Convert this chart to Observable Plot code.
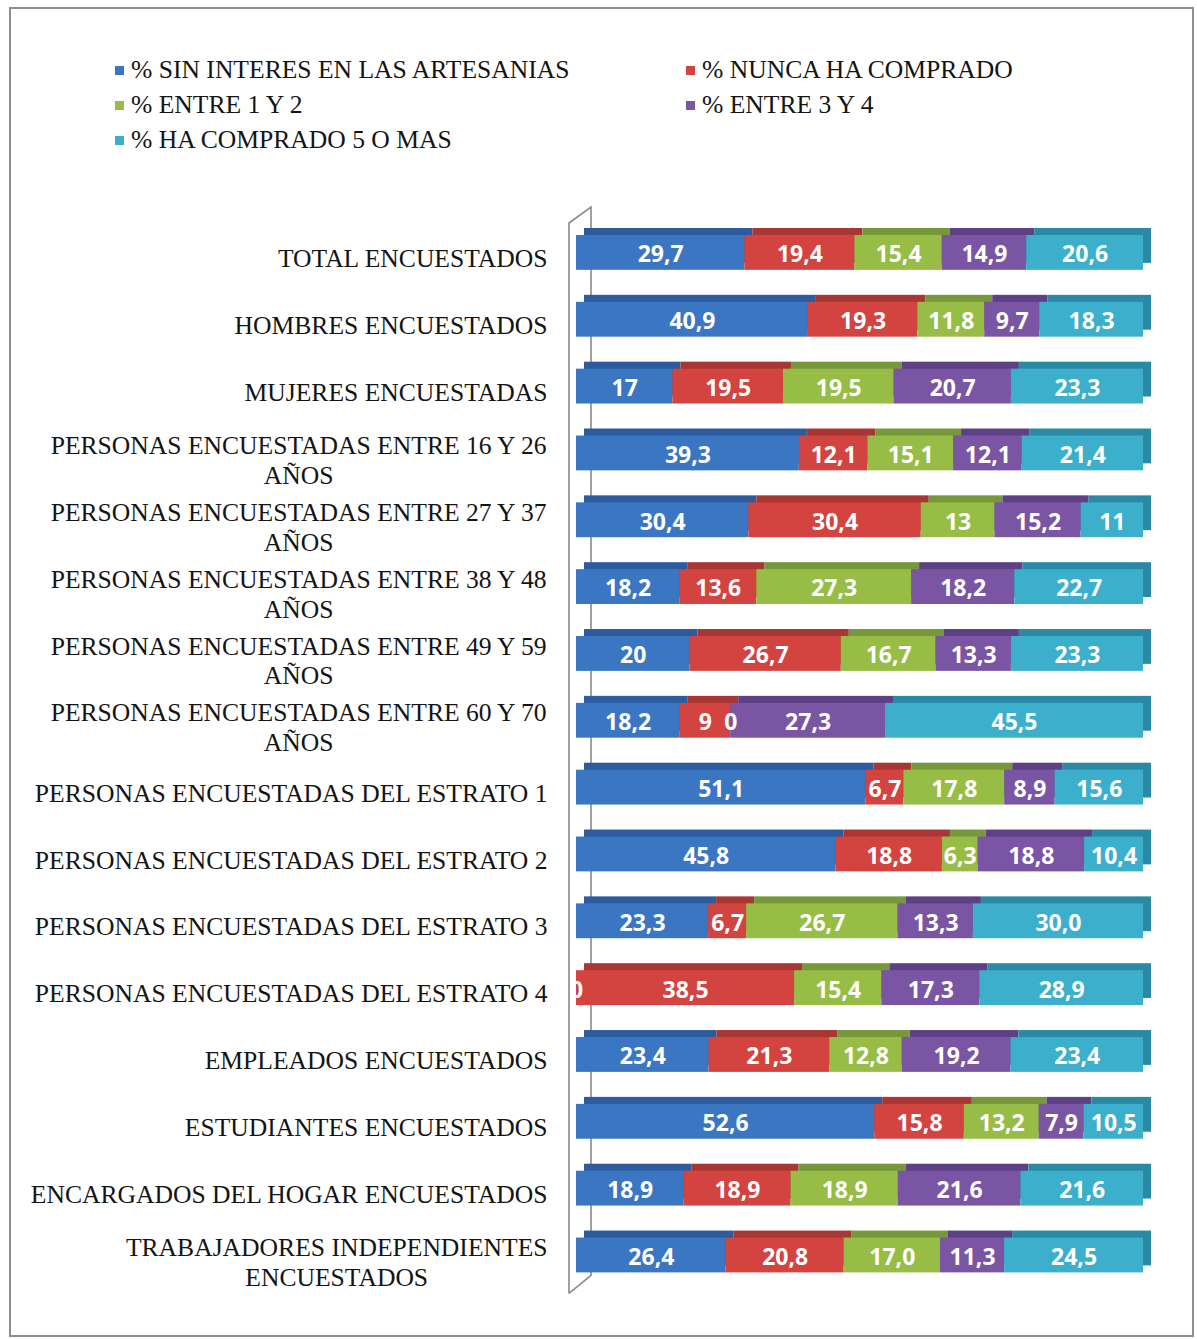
<!DOCTYPE html>
<html>
<head>
<meta charset="utf-8">
<script src="https://cdn.jsdelivr.net/npm/d3@7"></script>
<script src="https://cdn.jsdelivr.net/npm/@observablehq/plot@0.6"></script>
<style>
  body { margin: 0; background: #fff; }
  #wrap { position: relative; width: 1197px; height: 1339px; overflow: hidden; font-family: "Liberation Serif", "Times New Roman", serif; }
  #frame { position: absolute; left: 9px; top: 7px; width: 1185px; height: 1330px; border: 2px solid #8e8e8e; box-sizing: border-box; pointer-events: none; }
  .li { position: absolute; font-size: 25.6px; color: #141414; white-space: nowrap; line-height: 30px; }
  .sw { display: inline-block; width: 9px; height: 9px; margin-right: 7px; vertical-align: middle; position: relative; top: -2px; }
  #chart { position: absolute; left: 0; top: 184px; }
  #chart svg { display: block; }
</style>
</head>
<body>
<div id="wrap">
  <div id="legend"></div>
  <div id="chart"></div>
  <div id="frame"></div>
</div>
<script>
// ---------- DATA ----------
const categories = [
  "TOTAL ENCUESTADOS",
  "HOMBRES ENCUESTADOS",
  "MUJERES ENCUESTADAS",
  "PERSONAS ENCUESTADAS ENTRE 16 Y 26\nAÑOS",
  "PERSONAS ENCUESTADAS ENTRE 27 Y 37\nAÑOS",
  "PERSONAS ENCUESTADAS ENTRE 38 Y 48\nAÑOS",
  "PERSONAS ENCUESTADAS ENTRE 49 Y 59\nAÑOS",
  "PERSONAS ENCUESTADAS ENTRE 60 Y 70\nAÑOS",
  "PERSONAS ENCUESTADAS DEL ESTRATO 1",
  "PERSONAS ENCUESTADAS DEL ESTRATO 2",
  "PERSONAS ENCUESTADAS DEL ESTRATO 3",
  "PERSONAS ENCUESTADAS DEL ESTRATO 4",
  "EMPLEADOS ENCUESTADOS",
  "ESTUDIANTES ENCUESTADOS",
  "ENCARGADOS DEL HOGAR ENCUESTADOS",
  "TRABAJADORES INDEPENDIENTES\nENCUESTADOS"
];
const seriesNames = [
  "% SIN INTERES EN LAS ARTESANIAS",
  "% NUNCA HA COMPRADO",
  "% ENTRE 1 Y 2",
  "% ENTRE 3 Y 4",
  "% HA COMPRADO 5 O MAS"
];
// values as printed on the bars
const sinInteres    = ["29,7","40,9","17","39,3","30,4","18,2","20","18,2","51,1","45,8","23,3","0","23,4","52,6","18,9","26,4"];
const nuncaComprado = ["19,4","19,3","19,5","12,1","30,4","13,6","26,7","9","6,7","18,8","6,7","38,5","21,3","15,8","18,9","20,8"];
const entre1y2      = ["15,4","11,8","19,5","15,1","13","27,3","16,7","0","17,8","6,3","26,7","15,4","12,8","13,2","18,9","17,0"];
const entre3y4      = ["14,9","9,7","20,7","12,1","15,2","18,2","13,3","27,3","8,9","18,8","13,3","17,3","19,2","7,9","21,6","11,3"];
const cincoOMas     = ["20,6","18,3","23,3","21,4","11","22,7","23,3","45,5","15,6","10,4","30,0","28,9","23,4","10,5","21,6","24,5"];

const frontColors = ["#3b76c3", "#d3433f", "#97bd46", "#7a55a3", "#3cafcc"];
const topColors   = ["#2c5c9e", "#a83632", "#76973a", "#5d4085", "#2a8aa6"];

// ---------- BUILD ----------
const seriesLists = [sinInteres, nuncaComprado, entre1y2, entre3y4, cincoOMas];
const rows = [];
categories.forEach((c, i) => seriesLists.forEach((arr, j) => rows.push({
  cat: c, s: j, label: arr[i], value: +arr[i].replace(",", "."),
  front: frontColors[j], top: topColors[j]
})));

// legend (HTML, above the SVG)
const legend = document.getElementById("legend");
const legPos = [[115, 55], [686, 55], [115, 90], [686, 90], [115, 125]];
seriesNames.forEach((n, j) => {
  const d = document.createElement("div");
  d.className = "li";
  d.style.left = legPos[j][0] + "px";
  d.style.top = legPos[j][1] + "px";
  d.innerHTML = `<span class="sw" style="background:${frontColors[j]}"></span>`;
  d.appendChild(document.createTextNode(n));
  legend.appendChild(d);
});

// measure text for centered multi-line labels
const LABEL_SIZE = 25.6;
const ctx = document.createElement("canvas").getContext("2d");
ctx.font = `${LABEL_SIZE}px "Liberation Serif"`;
const labelFont = { fontSize: LABEL_SIZE, fontFamily: '"Liberation Serif", "Times New Roman", serif', fill: "#141414" };

const singleCats = categories.filter(c => !c.includes("\n"));
const multiCats = categories.filter(c => c.includes("\n"));

const labelMarks = [
  Plot.text(singleCats, { y: d => d, text: d => d, frameAnchor: "left", textAnchor: "end", dx: -29, dy: 6, ...labelFont }),
  ...multiCats.map(c => {
    const w = ctx.measureText(c.split("\n")[0]).width;
    return Plot.text([c], { y: d => d, text: d => d, frameAnchor: "left", textAnchor: "middle", lineHeight: 1.17, dx: -29 - w / 2, dy: 6, ...labelFont });
  })
];

// 3D wall (axis) drawn from the plot's own scale and dimensions
function wall(...args) {
  const scales = args.find(a => a && typeof a.x === "function");
  const dims = args.find(a => a && a.marginLeft !== undefined && a.height !== undefined);
  const x0 = scales.x(0);
  const top = dims.marginTop, bot = dims.height - dims.marginBottom;
  const lx = x0 - 7, rx = x0 + 15;
  const path = `M${lx},${bot + 5}L${lx},${top + 4}L${rx},${top - 12}L${rx},${bot - 13}L${lx},${bot + 5}`;
  const g = document.createElementNS("http://www.w3.org/2000/svg", "path");
  g.setAttribute("d", path);
  g.setAttribute("fill", "none");
  g.setAttribute("stroke", "#8a8a8a");
  g.setAttribute("stroke-width", "1.6");
  return g;
}

const stackOpts = { x: "value", y: "cat", offset: "normalize" };

const chart = Plot.plot({
  width: 1197,
  height: 1155,
  marginTop: 35,
  marginBottom: 50.6,
  marginLeft: 576,
  marginRight: 54,
  style: { background: "transparent", overflow: "visible" },
  x: { domain: [0, 1], axis: null },
  y: { domain: categories, padding: 0, round: false, axis: null },
  color: { type: "identity" },
  marks: [
    wall,
    Plot.barX(rows, Plot.stackX({ ...stackOpts, fill: "top", insetTop: 16, insetBottom: 16, dx: 8, dy: -7 })),
    Plot.barX(rows, Plot.stackX({ ...stackOpts, fill: "front", insetTop: 16, insetBottom: 16 })),
    Plot.text(rows, Plot.stackX({ ...stackOpts, text: "label", fill: "white", fontWeight: "bold", fontSize: 23, fontFamily: '"Open Sans", sans-serif', dy: 2 })),
    ...labelMarks
  ]
});
document.getElementById("chart").appendChild(chart);
</script>
</body>
</html>
